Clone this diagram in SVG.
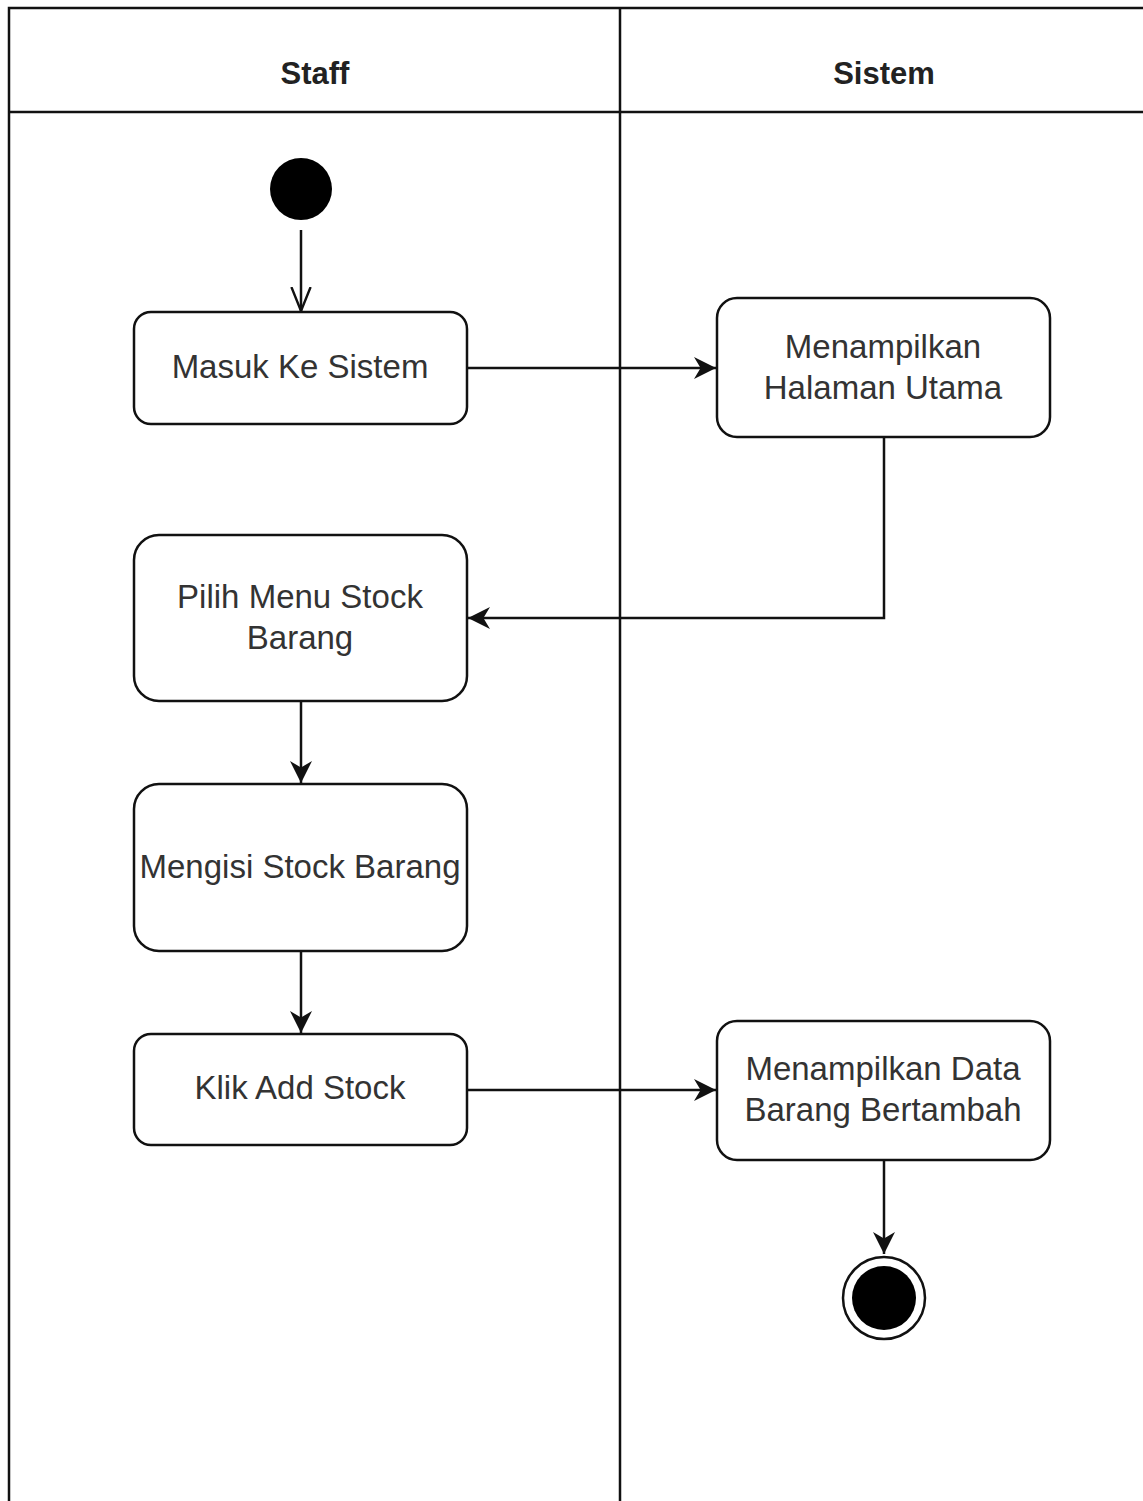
<svg xmlns="http://www.w3.org/2000/svg" width="1143" height="1501" viewBox="0 0 1143 1501">
  <style>
    .lane { fill: none; stroke: #111; stroke-width: 2.5; }
    .head { font-family: "Liberation Sans", Arial, sans-serif; font-size: 31px; font-weight: bold; fill: #222; text-anchor: middle; }
    .box { fill: #fff; stroke: #111; stroke-width: 2.5; }
    .lbl { font-family: "Liberation Sans", Arial, sans-serif; font-size: 33px; fill: #333; text-anchor: middle; }
    .edge { fill: none; stroke: #111; stroke-width: 2.5; }
  </style>
  <defs>
    <marker id="tri" viewBox="0 0 10 10" refX="10" refY="5" markerWidth="8" markerHeight="8" markerUnits="userSpaceOnUse" orient="auto">
      <path d="M0,0 L10,5 L0,10 L3,5 Z" fill="#111"/>
    </marker>
    <marker id="tri-big" viewBox="0 0 10 10" refX="10" refY="5" markerWidth="22" markerHeight="22" markerUnits="userSpaceOnUse" orient="auto">
      <path d="M0,0 L10,5 L0,10 L3,5 Z" fill="#111"/>
    </marker>
    <marker id="open" viewBox="0 0 10 10" refX="10" refY="5" markerWidth="24" markerHeight="24" markerUnits="userSpaceOnUse" orient="auto">
      <path d="M0,1 L10,5 L0,9" fill="none" stroke="#111" stroke-width="1"/>
    </marker>
  </defs>

  <rect width="1143" height="1501" fill="#fff"/>

  <!-- swimlanes -->
  <g id="lanes">
    <path class="lane" d="M9,1501 V8 H1143"/>
    <path class="lane" d="M9,112 H1143"/>
    <path class="lane" d="M620,8 V1501"/>
    <text class="head" x="315" y="84">Staff</text>
    <text class="head" x="884" y="84">Sistem</text>
  </g>

  <!-- connectors -->
  <g id="connectors">
    <path class="edge" d="M301,230 V311" marker-end="url(#open)"/>
    <path class="edge" d="M467,368 H716" marker-end="url(#tri-big)"/>
    <path class="edge" d="M884,437 V618 H468" marker-end="url(#tri-big)"/>
    <path class="edge" d="M301,701 V783" marker-end="url(#tri-big)"/>
    <path class="edge" d="M301,951 V1033" marker-end="url(#tri-big)"/>
    <path class="edge" d="M467,1090 H716" marker-end="url(#tri-big)"/>
    <path class="edge" d="M884,1160 V1254" marker-end="url(#tri-big)"/>
  </g>

  <!-- start node -->
  <g id="start">
    <circle cx="301" cy="189" r="31" fill="#000"/>
  </g>

  <g id="masuk">
    <rect class="box" x="134" y="312" width="333" height="112" rx="17"/>
    <text class="lbl" x="300" y="378">Masuk Ke Sistem</text>
  </g>

  <g id="halaman-utama">
    <rect class="box" x="717" y="298" width="333" height="139" rx="20"/>
    <text class="lbl" x="883" y="358">Menampilkan</text>
    <text class="lbl" x="883" y="399">Halaman Utama</text>
  </g>

  <g id="pilih-menu">
    <rect class="box" x="134" y="535" width="333" height="166" rx="25"/>
    <text class="lbl" x="300" y="608">Pilih Menu Stock</text>
    <text class="lbl" x="300" y="649">Barang</text>
  </g>

  <g id="mengisi">
    <rect class="box" x="134" y="784" width="333" height="167" rx="25"/>
    <text class="lbl" x="300" y="878">Mengisi Stock Barang</text>
  </g>

  <g id="klik-add">
    <rect class="box" x="134" y="1034" width="333" height="111" rx="17"/>
    <text class="lbl" x="300" y="1099">Klik Add Stock</text>
  </g>

  <g id="data-bertambah">
    <rect class="box" x="717" y="1021" width="333" height="139" rx="20"/>
    <text class="lbl" x="883" y="1080">Menampilkan Data</text>
    <text class="lbl" x="883" y="1121">Barang Bertambah</text>
  </g>

  <!-- final node -->
  <g id="end">
    <circle cx="884" cy="1298" r="41" fill="#fff" stroke="#111" stroke-width="2.5"/>
    <circle cx="884" cy="1298" r="32" fill="#000"/>
  </g>
</svg>
